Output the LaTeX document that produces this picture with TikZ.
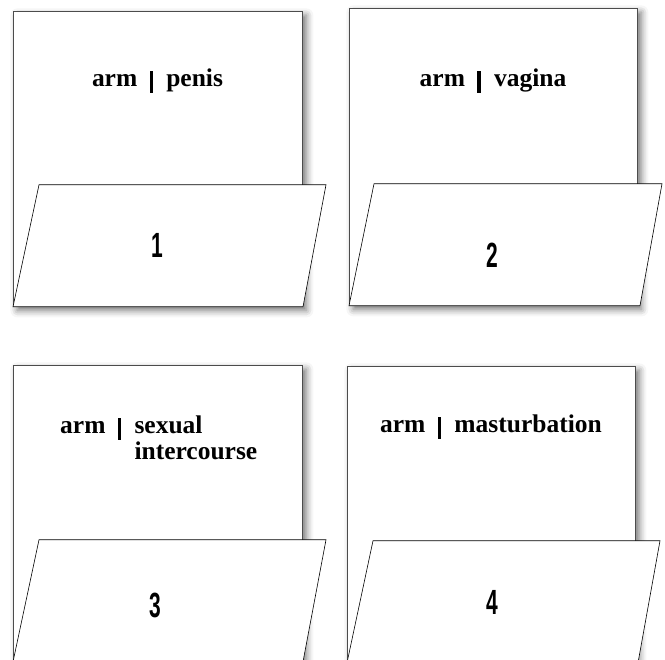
\documentclass[tikz,border=0pt]{standalone}
\usepackage{fontspec}
\setmainfont{Liberation Serif}
\newfontfamily\numfont[FakeStretch=0.6]{Liberation Sans}
\usetikzlibrary{positioning, shadows.blur}
\newcommand{\pipe}{\hspace{0.48em}\rule[-6pt]{3.5pt}{22pt}\hspace{0.52em}}

\begin{document}
\begin{tikzpicture}[x=1pt, y=-1pt,
    card/.style={rectangle, draw=black!70, fill=white, line width=0.8pt, anchor=north west, inner sep=0pt, minimum width=289pt, minimum height=296pt, blur shadow={shadow xshift=4pt, shadow yshift=-4pt, shadow blur radius=7pt, shadow opacity=55}},
    flap/.style={draw=black, fill=white, line width=0.6pt},
    cardtext/.style={inner sep=0pt, anchor=base, font=\fontsize{25.5}{26}\selectfont\bfseries},
    num/.style={inner sep=0pt, font=\fontsize{35}{35}\numfont\bfseries}
]
\useasboundingbox (0,0) rectangle (665,660);
% cards
\node[card, minimum height=295pt] (c1) at (13,11) {};
\node[card, minimum width=288pt, minimum height=297pt] (c2) at (349,8) {};
\node[card] (c3) at (13,365) {};
\node[card, minimum width=288pt] (c4) at (347,366) {};
% flaps
\draw[flap] (c1.south west) -- ++(26,-122) -- ++(287,0) -- ++(-23,122) -- cycle;
\draw[flap] (c2.south west) -- ++(25,-122) -- ++(288,0) -- ++(-22,122) -- cycle;
\draw[flap] (c3.south west) -- ++(26,-122) -- ++(287,0) -- ++(-23,122) -- cycle;
\draw[flap] (c4.south west) -- ++(26,-122) -- ++(287,0) -- ++(-22,122) -- cycle;
% texts
\node[cardtext] (t1) at (157.5,87) {arm\pipe penis};
\node[cardtext] (t2) at (493,87) {arm\pipe vagina};
\node[cardtext, anchor=base west] (t3) at (60,434) {arm\pipe\begin{tabular}[t]{@{}l@{}}sexual\\intercourse\end{tabular}};
\node[cardtext] (t4) at (491,433) {arm\pipe masturbation};
\node[num] (n1) at (157,245) {1};
\node[num] (n2) at (492,255) {2};
\node[num] (n3) at (155,605) {3};
\node[num] (n4) at (492,602) {4};
\end{tikzpicture}
\end{document}
